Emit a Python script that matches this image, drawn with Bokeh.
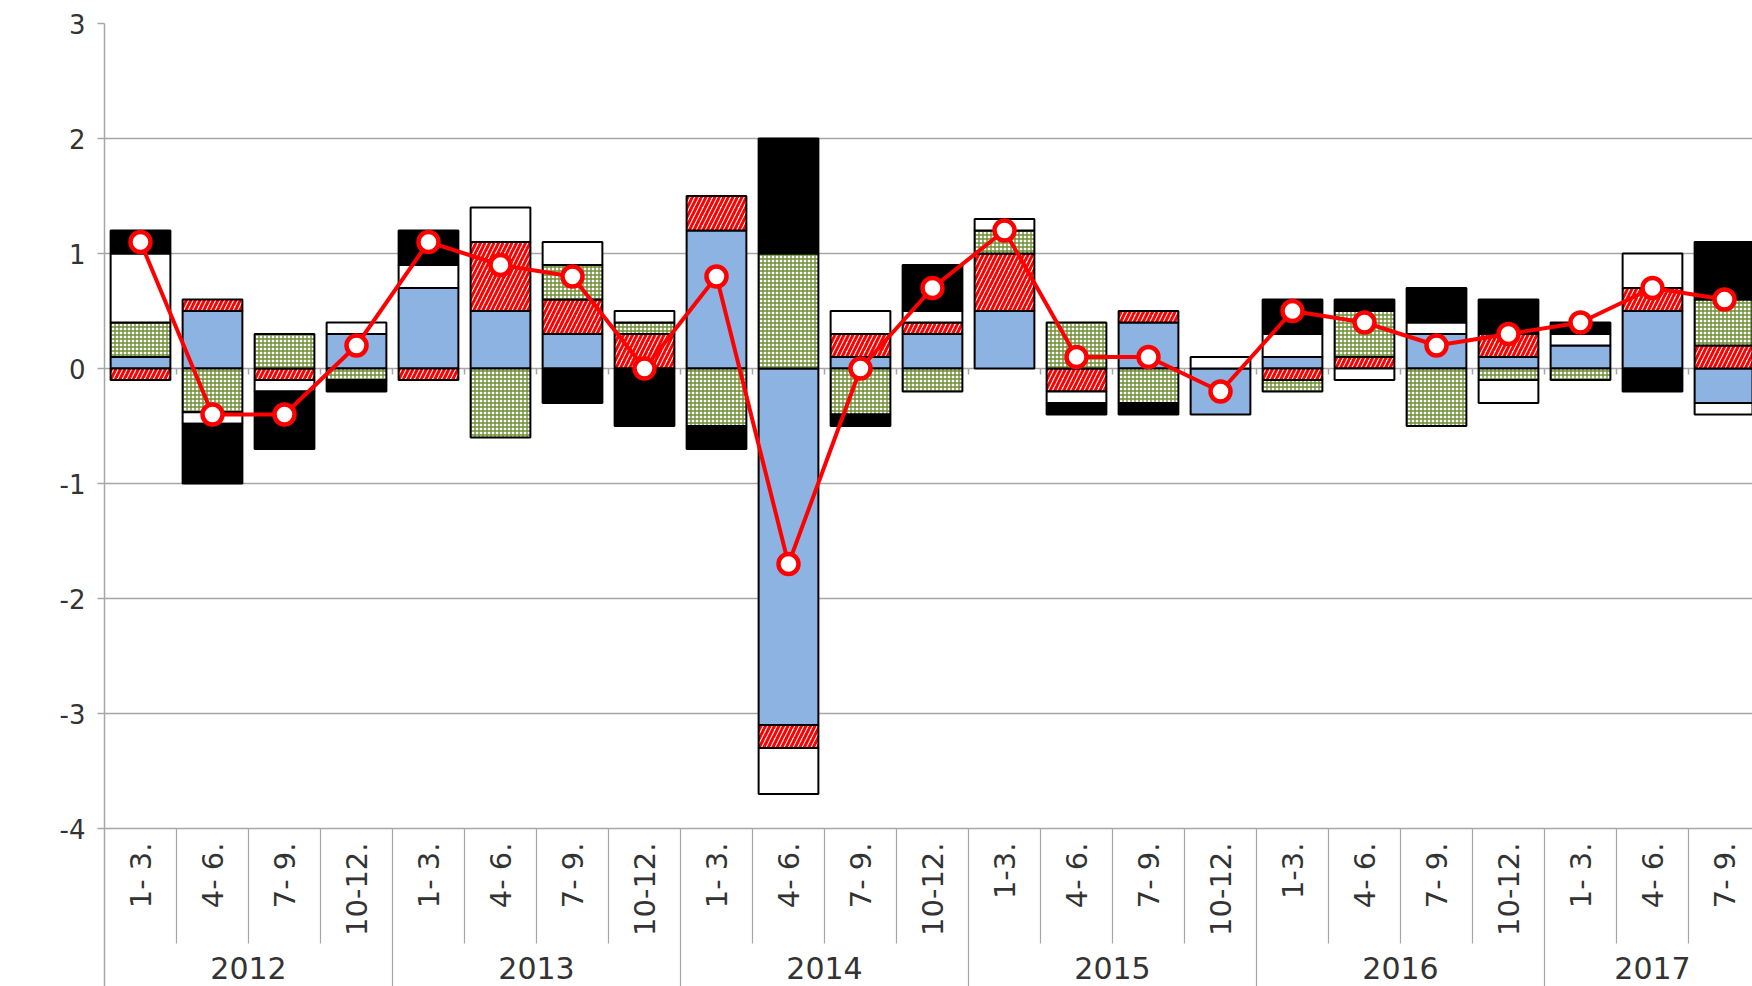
from bokeh.plotting import figure
from bokeh.models import Range1d, FixedTicker, ColumnDataSource, CustomJSTickFormatter, Label
from bokeh.core.properties import value
from bokeh.embed import file_html
from bokeh.resources import INLINE
import math

# ---------------- data ----------------
years = ["2012", "2013", "2014", "2015", "2016", "2017"]
quarters_per_year = [4, 4, 4, 4, 4, 3]
quarter_labels = [
    "1- 3.", "4- 6.", "7- 9.", "10-12.",
    "1- 3.", "4- 6.", "7- 9.", "10-12.",
    "1- 3.", "4- 6.", "7- 9.", "10-12.",
    "1-3.", "4- 6.", "7- 9.", "10-12.",
    "1-3.", "4- 6.", "7- 9.", "10-12.",
    "1- 3.", "4- 6.", "7- 9.",
]

# stacked contributions (percentage points), stacking order as in the chart
blue_solid = [0.1, 0.5, 0.0, 0.3, 0.7, 0.5, 0.3, 0.0, 1.2, -3.1, 0.1, 0.3,
              0.5, 0.0, 0.4, -0.4, 0.1, 0.0, 0.3, 0.1, 0.2, 0.5, -0.3]
red_hatch = [-0.1, 0.1, -0.1, 0.0, -0.1, 0.6, 0.3, 0.3, 0.3, -0.2, 0.2, 0.1,
             0.5, -0.2, 0.1, 0.0, -0.1, 0.1, 0.0, 0.2, 0.0, 0.2, 0.2]
green_grid = [0.3, -0.38, 0.3, -0.1, 0.0, -0.6, 0.3, 0.1, -0.5, 1.0, -0.4, -0.2,
              0.2, 0.4, -0.3, 0.0, -0.1, 0.4, -0.5, -0.1, -0.1, 0.0, 0.4]
white_plain = [0.6, -0.1, -0.1, 0.1, 0.2, 0.3, 0.2, 0.1, 0.0, -0.4, 0.2, 0.1,
               0.1, -0.1, 0.0, 0.1, 0.2, -0.1, 0.1, -0.2, 0.1, 0.3, -0.1]
black_solid = [0.2, -0.52, -0.5, -0.1, 0.3, 0.0, -0.3, -0.5, -0.2, 1.0, -0.1, 0.4,
               0.0, -0.1, -0.1, 0.0, 0.3, 0.1, 0.3, 0.3, 0.1, -0.2, 0.5]

# total (line)
total_growth = [1.1, -0.4, -0.4, 0.2, 1.1, 0.9, 0.8, 0.0, 0.8, -1.7, 0.0, 0.7,
                1.2, 0.1, 0.1, -0.2, 0.5, 0.4, 0.2, 0.3, 0.4, 0.7, 0.6]

y_ticks = [-4, -3, -2, -1, 0, 1, 2, 3]

# ---------------- styles / layout ----------------
FONT = "DejaVu Sans"
GRAY = "#A6A6A6"
TXT = "#333333"
SLOT_PX = 72.0          # pixels per quarter
UNIT_PX = 115.0         # pixels per 1 %
BAR_W = 0.83
W, H = 1752, 986
LEFT, TOP = 104, 23
frame_w = W - LEFT
frame_h = H - TOP
y_top = max(y_ticks)
y_bot_axis = min(y_ticks)
y_bottom = y_top - frame_h / UNIT_PX


def below_axis(px):
    """data y for a position px pixels below the lowest gridline"""
    return y_bot_axis - px / UNIT_PX


series_styles = [
    dict(fill_color="#8DB3E2"),
    dict(fill_color="white", hatch_pattern="/", hatch_color="#FF0000", hatch_weight=3, hatch_scale=9),
    dict(fill_color="white", hatch_pattern="+", hatch_color="#6E8F34", hatch_weight=1.4, hatch_scale=4),
    dict(fill_color="white"),
    dict(fill_color="black"),
]
series = [blue_solid, red_hatch, green_grid, white_plain, black_solid]

n = len(total_growth)
centers = [i + 0.5 for i in range(n)]

p = figure(width=W, height=H,
           x_range=Range1d(0, frame_w / SLOT_PX), y_range=Range1d(y_bottom, y_top),
           x_axis_type=None, output_backend="svg", toolbar_location=None,
           min_border_left=LEFT, min_border_right=0, min_border_top=TOP, min_border_bottom=0)
p.outline_line_color = None
p.background_fill_color = "white"

p.yaxis.ticker = FixedTicker(ticks=y_ticks)
p.yaxis.formatter = CustomJSTickFormatter(code="return tick.toString()")
p.yaxis.axis_line_color = GRAY
p.yaxis.axis_line_width = 1.5
p.yaxis.major_tick_line_color = GRAY
p.yaxis.major_tick_line_width = 1.5
p.yaxis.major_tick_out = 7
p.yaxis.major_tick_in = 0
p.yaxis.minor_tick_line_color = None
p.yaxis.major_label_text_font = FONT
p.yaxis.major_label_text_font_size = "26px"
p.yaxis.major_label_text_color = TXT
p.yaxis.major_label_standoff = 12

p.ygrid.grid_line_color = GRAY
p.ygrid.grid_line_width = 1.5

p.add_layout(Label(x=-79 / SLOT_PX, y=(y_top + y_bot_axis) / 2, text="%",
                   text_align="center", text_baseline="middle",
                   text_font=FONT, text_font_size="27px", text_font_style="bold",
                   text_color="black"))

# small category ticks on the zero line
inner_bounds = list(range(1, n))
p.segment(x0=inner_bounds, y0=[0] * len(inner_bounds), x1=inner_bounds,
          y1=[-6 / UNIT_PX] * len(inner_bounds), line_color=GRAY, line_width=1.5)

# stacked bars (positive up, negative down, like a spreadsheet chart)
pos = [0.0] * n
neg = [0.0] * n
for vals, style in zip(series, series_styles):
    xs, bots, tops = [], [], []
    for i, v in enumerate(vals):
        if v == 0:
            continue
        if v > 0:
            b = pos[i]
            pos[i] = b + v
        else:
            b = neg[i]
            neg[i] = b + v
        xs.append(centers[i])
        bots.append(b)
        tops.append(b + v)
    src = ColumnDataSource(dict(x=xs, bottom=bots, top=tops))
    p.vbar(x="x", bottom="bottom", top="top", width=BAR_W, source=src,
           line_color="black", line_width=2, **style)

p.line(x=centers, y=total_growth, line_color="#FF0000", line_width=4)
p.scatter(x=centers, y=total_growth, size=20, fill_color="white",
          line_color="#FF0000", line_width=4.5)

# ---------------- category axis (below the lowest gridline) ----------------
year_starts = []
acc = 0
for c in quarters_per_year:
    year_starts.append(acc)
    acc += c
year_centers = [s + c / 2 for s, c in zip(year_starts, quarters_per_year)]
quarter_bounds = [b for b in range(1, n) if b not in year_starts]

p.segment(x0=quarter_bounds, y0=[below_axis(0)] * len(quarter_bounds), x1=quarter_bounds,
          y1=[below_axis(115)] * len(quarter_bounds), line_color=GRAY, line_width=1.2)
p.segment(x0=year_starts[1:], y0=[below_axis(0)] * (len(year_starts) - 1), x1=year_starts[1:],
          y1=[y_bottom] * (len(year_starts) - 1), line_color=GRAY, line_width=1.2)

p.text(x=centers, y=[below_axis(14)] * n, text=quarter_labels, angle=math.pi / 2,
       text_align="right", text_baseline="middle", text_font=value(FONT),
       text_font_size="29px", text_color=TXT)
p.text(x=year_centers, y=[below_axis(139)] * len(years), text=years,
       text_align="center", text_baseline="middle", text_font=value(FONT),
       text_font_size="30px", text_color=TXT)

open("out.html", "w").write(file_html(p, INLINE))
